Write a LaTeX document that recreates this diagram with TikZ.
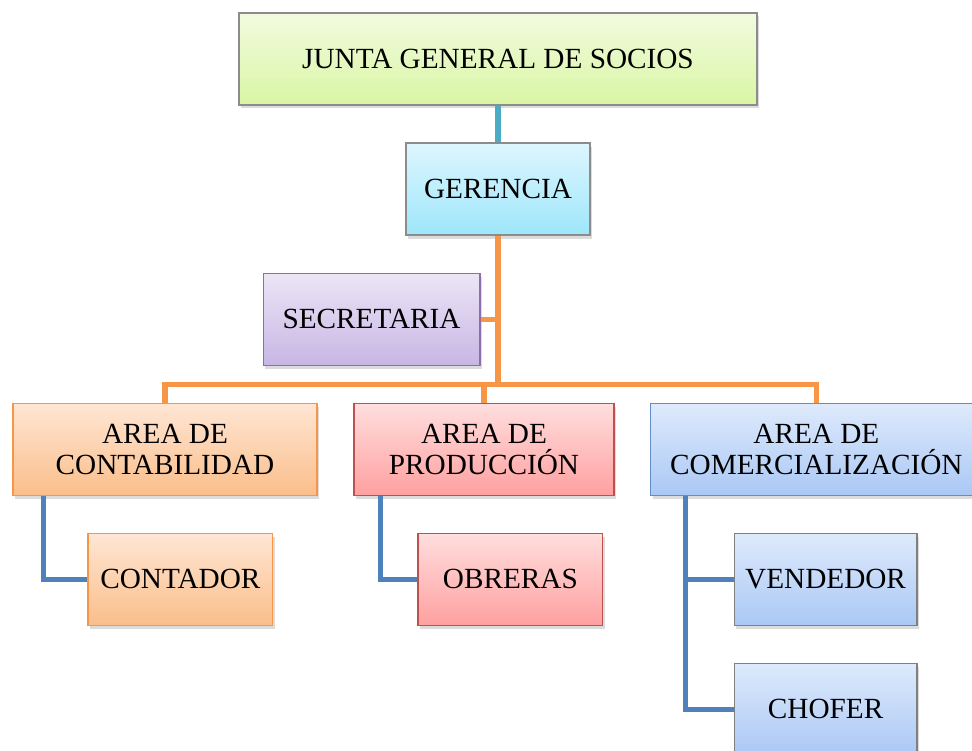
\documentclass[tikz,border=0pt]{standalone}
\usepackage{fontspec}
\setmainfont{Liberation Serif}
\usetikzlibrary{shadows,positioning,calc}
\definecolor{lnteal}{RGB}{75,172,198}
\definecolor{lnorange}{RGB}{247,150,70}
\definecolor{lnblue}{RGB}{79,129,189}
\definecolor{vdtop}{RGB}{242,251,224}
\definecolor{vdbot}{RGB}{217,246,163}
\definecolor{cltop}{RGB}{222,246,255}
\definecolor{clbot}{RGB}{158,230,250}
\definecolor{mrtop}{RGB}{236,229,246}
\definecolor{mrbot}{RGB}{199,182,228}
\definecolor{mrdraw}{RGB}{140,110,170}
\definecolor{nrtop}{RGB}{255,230,212}
\definecolor{nrbot}{RGB}{250,190,138}
\definecolor{rjtop}{RGB}{255,222,222}
\definecolor{rjbot}{RGB}{255,160,160}
\definecolor{rjdraw}{RGB}{192,80,77}
\definecolor{aztop}{RGB}{222,234,252}
\definecolor{azbot}{RGB}{170,200,245}
\definecolor{azdraw}{RGB}{100,140,200}

\begin{document}
\begin{tikzpicture}[
    caja/.style={draw, line width=0.8pt, inner sep=0pt, align=center,
      minimum height=2.3cm, font=\fontsize{20.8}{22}\selectfont,
      drop shadow={opacity=0.28, shadow xshift=1.5pt, shadow yshift=-2.5pt}},
    verde/.style={caja, top color=vdtop, bottom color=vdbot, draw=black!45},
    celeste/.style={caja, top color=cltop, bottom color=clbot, draw=black!45},
    morado/.style={caja, top color=mrtop, bottom color=mrbot, draw=mrdraw},
    naranja/.style={caja, top color=nrtop, bottom color=nrbot, draw=lnorange},
    rojo/.style={caja, top color=rjtop, bottom color=rjbot, draw=rjdraw},
    azul/.style={caja, top color=aztop, bottom color=azbot, draw=azdraw},
    azulg/.style={caja, top color=aztop, bottom color=azbot, draw=black!50},
    linea/.style={line width=3.6pt}]
    \useasboundingbox (0,0) rectangle (24.3,18.775);
    \clip (0,0) rectangle (24.3,18.775);
    \foreach \name/\x/\y/\w/\sty/\txt in {
      junta/12.45/17.3/12.95/verde/{JUNTA GENERAL DE SOCIOS},
      ger/12.45/14.05/4.6/celeste/{GERENCIA},
      sec/9.29/10.79/5.42/morado/{SECRETARIA},
      cont/4.125/7.54/7.6/naranja/{AREA DE\\CONTABILIDAD},
      prod/12.1/7.54/6.5/rojo/{AREA DE\\PRODUCCIÓN},
      com/20.41/7.54/8.28/azul/{AREA DE\\COMERCIALIZACIÓN},
      conta/4.51/4.29/4.62/naranja/{CONTADOR},
      obr/12.76/4.29/4.62/rojo/{OBRERAS},
      vend/20.64/4.29/4.57/azulg/{VENDEDOR},
      chof/20.64/1.04/4.57/azulg/{CHOFER}}{
      \node[\sty, minimum width=\w cm] (\name) at (\x,\y) {\txt};
    }
    % lineas de mando
    \coordinate (bar) at ($(ger.south)+(0,-3.73)$);
    \draw[linea, lnteal] (junta.south) -- (ger.north);
    \draw[linea, lnorange] (ger.south) -- (bar);
    \draw[linea, lnorange] (sec.east) -- (sec.east -| ger.south);
    \draw[linea, lnorange] (cont.north) |- (bar) -| (com.north);
    \draw[linea, lnorange] (prod.north) -- (prod.north |- bar);
    \draw[linea, lnblue] ([xshift=0.78cm]cont.south west) |- (conta.west);
    \draw[linea, lnblue] ([xshift=0.68cm]prod.south west) |- (obr.west);
    \draw[linea, lnblue] ([xshift=0.88cm]com.south west) |- (vend.west);
    \draw[linea, lnblue] ([xshift=0.88cm]com.south west) |- (chof.west);
  \end{tikzpicture}
\end{document}
